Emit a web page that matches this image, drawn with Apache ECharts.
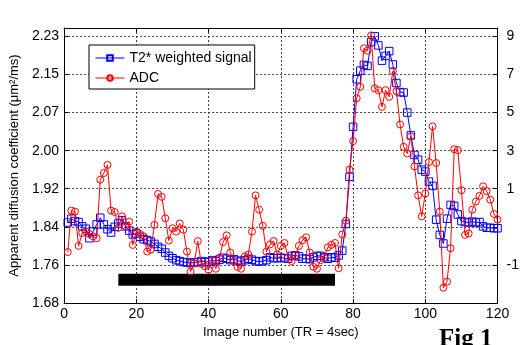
<!DOCTYPE html>
<html>
<head>
<meta charset="utf-8">
<script src="https://cdn.jsdelivr.net/npm/echarts@6/dist/echarts.min.js"></script>
<style>
html,body{margin:0;padding:0;background:#fff;}
#chart{width:522px;height:345px;}
</style>
</head>
<body>
<div id="chart"></div>
<script>
// ---- data ----
const t2Values = [
1.849,1.857,1.852,1.850,1.841,1.836,1.816,1.830,1.845,1.859,
1.845,1.835,1.828,1.840,1.847,1.854,1.841,1.832,1.824,1.826,
1.819,1.814,1.812,1.809,1.804,1.798,1.794,1.786,1.779,1.774,
1.770,1.768,1.766,1.765,1.764,1.765,1.766,1.768,1.766,1.767,
1.770,1.768,1.771,1.775,1.773,1.770,1.772,1.769,1.767,1.770,
1.773,1.771,1.768,1.767,1.768,1.770,1.776,1.774,1.774,1.775,
1.774,1.773,1.779,1.780,1.778,1.773,1.773,1.772,1.776,1.779,
1.779,1.776,1.773,1.776,1.775,1.780,1.790,1.846,1.945,2.050,
2.150,2.168,2.180,2.178,2.228,2.240,2.221,2.189,2.199,2.209,
2.181,2.142,2.123,2.122,2.080,2.032,1.991,1.981,1.960,1.956,
1.935,1.926,1.855,1.823,1.805,1.857,1.886,1.884,1.866,1.852,
1.850,1.849,1.851,1.849,1.850,1.841,1.838,1.838,1.837,1.837
];
const adcValues = [
1.787,1.874,1.872,1.800,1.827,1.830,1.825,1.820,1.816,1.939,
1.953,1.970,1.874,1.871,1.838,1.862,1.842,1.851,1.802,1.830,
1.825,1.820,1.788,1.792,1.844,1.909,1.903,1.858,1.811,1.837,
1.830,1.847,1.834,1.788,1.746,1.763,1.810,1.762,1.757,1.750,
1.770,1.752,1.775,1.808,1.822,1.786,1.768,1.756,1.752,1.778,
1.782,1.830,1.906,1.876,1.842,1.788,1.803,1.810,1.782,1.800,
1.806,1.776,1.768,1.780,1.800,1.812,1.818,1.786,1.756,1.752,
1.770,1.776,1.797,1.802,1.806,1.753,1.824,1.853,1.960,2.020,
2.110,2.134,2.215,2.210,2.242,2.131,2.127,2.092,2.127,2.113,
2.167,2.125,2.055,2.008,1.994,2.030,1.967,1.906,1.862,1.910,
1.976,2.051,1.974,1.872,1.712,1.725,1.795,2.003,2.001,1.917,
1.823,1.826,1.876,1.893,1.905,1.925,1.915,1.897,1.867,1.855
];
const firstImage = 1;
const stimulusRange = [15, 75];
const stimulusLevel = 1.729;
const xTickLabels = ['0','20','40','60','80','100','120'];
const leftTickLabels = ['1.68','1.76','1.84','1.92','2.00','2.07','2.15','2.23'];
const rightTickLabels = ['','-1','','1','3','5','7','9'];
const seriesNames = ['T2* weighted signal','ADC'];

// ---- axis setup ----
const yMin = 1.68, yStep = 0.08, yMax = 2.2576;
const xMin = 0, xMax = 120, xStep = 20;
const FONT = '"Liberation Sans", Arial, sans-serif';

function tickIndex(v){
  const k = Math.round((v - yMin) / yStep);
  if (Math.abs(v - (yMin + k * yStep)) > 1e-6) return -1;
  return k;
}
const toPairs = arr => arr.map((v, i) => [firstImage + i, v]);

const gridLine = {show:true, lineStyle:{color:'#444', type:[2,2], width:1}};

const chart = echarts.init(document.getElementById('chart'), null, {renderer:'canvas'});
chart.setOption({
  animation: false,
  backgroundColor: '#fff',
  grid: {left:60, right:15, top:28, bottom:42, containLabel:false},
  legend: {
    orient: 'vertical',
    left: 89, top: 45,
    backgroundColor: '#fff',
    borderColor: '#000', borderWidth: 1,
    padding: [5, 3, 3, 6],
    itemWidth: 29, itemHeight: 7, itemGap: 4,
    lineStyle: {width: 1, inactiveWidth: 1},
    textStyle: {fontFamily: FONT, fontSize: 14, color: '#000', lineHeight: 16},
    data: seriesNames
  },
  xAxis: [{
    type: 'value', min: xMin, max: xMax, interval: xStep,
    name: 'Image number (TR = 4sec)', nameLocation: 'middle', nameGap: 22,
    nameTextStyle: {fontFamily: FONT, fontSize: 13, color: '#000'},
    axisLine: {show:true, lineStyle:{color:'#000', width:1}},
    axisTick: {show:true, inside:true, length:4, lineStyle:{color:'#000'}},
    axisLabel: {fontFamily: FONT, fontSize: 14, color:'#000', margin: 4,
      formatter: v => xTickLabels[Math.round((v - xMin)/xStep)] ?? ''},
    splitLine: gridLine
  },{
    type: 'value', min: xMin, max: xMax, interval: xStep, position: 'top',
    axisLine: {show:true, onZero:false, lineStyle:{color:'#000', width:1}},
    axisTick: {show:true, inside:true, length:4, lineStyle:{color:'#000'}},
    axisLabel: {show:false}, splitLine: {show:false}
  }],
  yAxis: [{
    type: 'value', min: yMin, max: yMax, interval: yStep,
    name: 'Apparent diffusion coefficient (\u03bcm\u00b2/ms)', nameLocation: 'middle', nameGap: 37,
    nameTextStyle: {fontFamily: FONT, fontSize: 13, color: '#000'},
    axisLine: {show:true, onZero:false, lineStyle:{color:'#000', width:1}},
    axisTick: {show:true, inside:true, length:4, lineStyle:{color:'#000'}},
    axisLabel: {fontFamily: FONT, fontSize: 14, color:'#000', margin: 5,
      formatter: v => { const k = tickIndex(v); return k < 0 ? '' : (leftTickLabels[k] ?? ''); }},
    splitLine: gridLine
  },{
    type: 'value', min: yMin, max: yMax, interval: yStep, position: 'right',
    axisLine: {show:true, onZero:false, lineStyle:{color:'#000', width:1}},
    axisTick: {show:true, inside:true, length:4, lineStyle:{color:'#000'}},
    axisLabel: {fontFamily: FONT, fontSize: 14, color:'#000', margin: 9, padding:[9,0,0,0],
      formatter: v => { const k = tickIndex(v); return k < 0 ? '' : (rightTickLabels[k] ?? ''); }},
    splitLine: {show:false}
  }],
  series: [{
    name: seriesNames[0], type: 'line', data: toPairs(t2Values),
    symbol: 'rect', symbolSize: 7.5,
    lineStyle: {color:'#0000ff', width:1},
    itemStyle: {color:'rgba(255,255,255,0)', borderColor:'#0000ff', borderWidth:1},
    z: 3
  },{
    name: seriesNames[1], type: 'line', data: toPairs(adcValues),
    symbol: 'circle', symbolSize: 7,
    lineStyle: {color:'#ff0000', width:1},
    itemStyle: {color:'rgba(255,255,255,0)', borderColor:'#ff0000', borderWidth:1},
    z: 4
  },{
    name: 'stimulus', type: 'line',
    data: stimulusRange.map(x => [x, stimulusLevel]),
    symbol: 'none', silent: true,
    lineStyle: {color:'#000', width:12, cap:'butt'},
    z: 2
  }],
  graphic: [{
    type: 'text', left: 439, top: 327,
    style: {text: 'Fig 1', fill: '#000', font: 'bold 25px "Liberation Serif", "Times New Roman", serif'}
  }]
});
</script>
</body>
</html>
